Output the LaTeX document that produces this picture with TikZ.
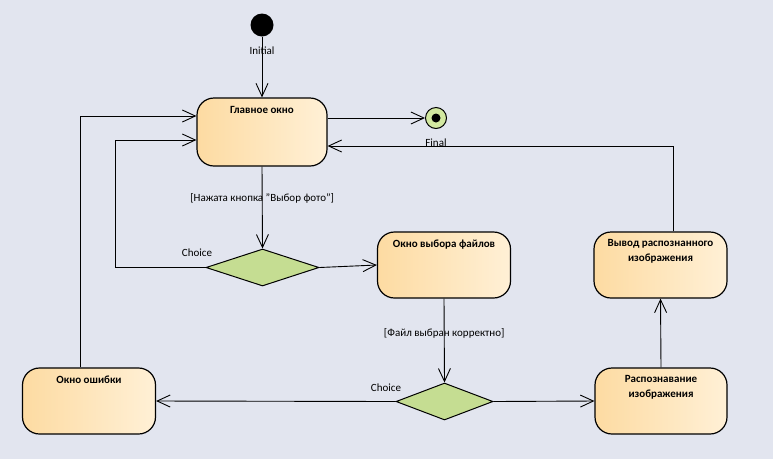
\documentclass[tikz,border=0pt]{standalone}
\usepackage{fontspec}
\setmainfont{Carlito}
\usetikzlibrary{arrows.meta,shapes.geometric,calc}
\definecolor{bg}{RGB}{226,229,239}
\definecolor{boxL}{RGB}{253,219,162}
\definecolor{boxR}{RGB}{255,240,214}
\definecolor{chg}{RGB}{197,221,146}
\definecolor{fing}{RGB}{210,232,160}
\tikzset{
  stbox/.style={draw=black, line width=1.2pt, rounded corners=17pt, left color=boxL, right color=boxR, minimum width=133pt, minimum height=66pt, inner sep=0pt},
  ttl/.style={font=\fontsize{11}{15}\selectfont\bfseries, align=center, anchor=north, inner sep=0pt},
  choice/.style={diamond, draw=black, line width=1pt, fill=chg, minimum width=#1, minimum height=37pt, aspect=2.6, inner sep=0pt},
  lbl/.style={font=\fontsize{11}{13}\selectfont, inner sep=0pt},
  conn/.style={draw=black, line width=0.9pt},
  arr/.style={conn, -{Straight Barb[length=13pt,width=12pt,line width=0.9pt]}},
}
\begin{document}
\begin{tikzpicture}[x=1pt,y=-1pt]
\useasboundingbox[fill=bg] (0,0) rectangle (773,459);
% states
\node[stbox, minimum width=130pt, minimum height=68pt] (main) at (262,132) {};
\node[ttl] (mainT) at (262,106.5) {Главное окно};
\node[stbox] (ovf) at (444,265) {};
\node[ttl] (ovfT) at (444,239.5) {Окно выбора файлов};
\node[stbox] (vyv) at (660.5,265) {};
\node[ttl] (vyvT) at (660.5,239) {Вывод распознанного\\изображения};
\node[stbox] (err) at (89,401) {};
\node[ttl] (errT) at (89,375.5) {Окно ошибки};
\node[stbox, minimum width=132pt] (rasp) at (661,401) {};
\node[ttl] (raspT) at (661,375) {Распознавание\\изображения};
% pseudo states
\node[circle, fill=black, minimum size=23pt, inner sep=0pt] (init) at (262,25) {};
\node[lbl] (initL) at (262,51) {Initial};
\node[circle, draw=black, line width=1pt, fill=fing, minimum size=21pt, inner sep=0pt] (fin) at (436,118) {};
\node[circle, fill=black, minimum size=9pt, inner sep=0pt] (finD) at (436,118) {};
\node[lbl] (finL) at (436,143) {Final};
\node[choice=113pt] (c1) at (262.5,267.5) {};
\node[lbl] (c1L) at (197,253) {Choice};
\node[choice=97pt] (c2) at (444.5,401.5) {};
\node[lbl] (c2L) at (386,388) {Choice};
% corner coordinates
\coordinate (k1) at (115,267.5);
% connectors
\draw[arr] (init) -- (main.north);
\draw[arr] (fin.west -| main.east) -- (fin.west);
\draw[arr] ([xshift=12.5pt]vyv.north) |- ([yshift=-14pt]main.east);
\draw[arr] (main.south) -- node[lbl, pos=0.39] (g1) {[Нажата кнопка "Выбор фото"]} (c1.north);
\draw[arr] (c1.east) -- (ovf.west);
\draw[arr] (c1.west) -- (k1) |- ([yshift=-8pt]main.west);
\draw[arr] ([xshift=-9pt]err.north) |- ([yshift=16pt]main.west);
\draw[arr] (ovf.south) -- node[lbl, pos=0.41] (g2) {[Файл выбран корректно]} (c2.north);
\draw[arr] (c2.west) -- (err.east);
\draw[arr] (c2.east) -- (rasp.west);
\draw[arr] (rasp.north) -- (vyv.south);
\end{tikzpicture}
\end{document}
